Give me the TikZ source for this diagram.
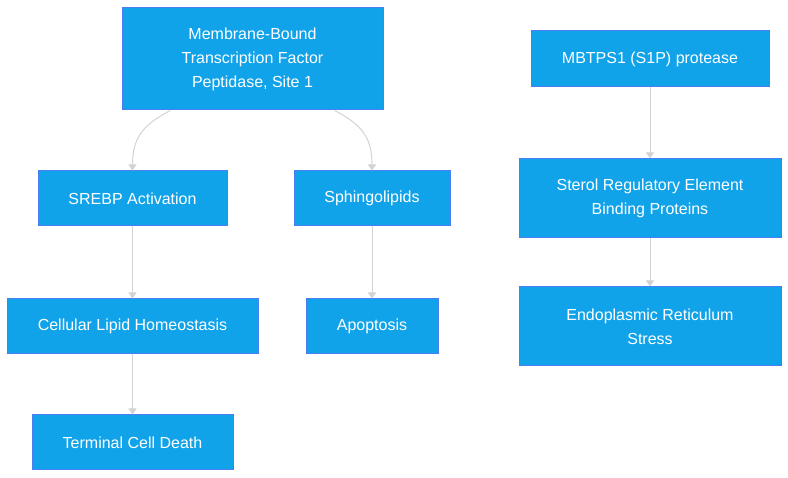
\documentclass[tikz,border=0pt]{standalone}
\usepackage{fontspec}
\setmainfont{Liberation Sans}
\usetikzlibrary{arrows.meta}
\definecolor{boxFill}{RGB}{17,163,233}
\definecolor{boxLine}{RGB}{76,126,242}
\definecolor{edgeGray}{RGB}{211,211,211}
\begin{document}
\begin{tikzpicture}
[x=1pt,y=-1pt,
  nodeDecorate/.style={shape=rectangle,draw=boxLine,fill=boxFill,line width=1pt,
    text=white,align=center,inner sep=0pt,
    font=\fontsize{16}{24}\selectfont},%
  lineDecorate/.style={-{Triangle[length=6pt,width=8pt]},draw=edgeGray,line width=1pt}]
\useasboundingbox (0,0) rectangle (788,478);
%% boxes
\foreach \nodename/\x/\y/\w/\h/\txt in {
  mbtf/252.5/59/261/102/{Membrane-Bound\\Transcription Factor\\Peptidase, Site 1},
  srebp/132.5/198.5/189/55/{SREBP Activation},
  sphingo/372/198.5/156/55/{Sphingolipids},
  homeo/132.5/326.5/251/55/{Cellular Lipid Homeostasis},
  apopt/372/326.5/132/55/{Apoptosis},
  death/132.5/442.5/201/55/{Terminal Cell Death},
  mbtps/650/59/238/56/{MBTPS1 (S1P) protease},
  sterol/650/198.5/262/79/{Sterol Regulatory Element\\Binding Proteins},
  erstress/650/326.5/262/79/{Endoplasmic Reticulum\\Stress}}
{
  \node (\nodename) at (\x,\y) [nodeDecorate,minimum width=\w pt,minimum height=\h pt] {\txt};
}
%% curved edges from the top box
\draw[lineDecorate] ([xshift=-82pt]mbtf.south) .. controls +(-30,15) and +(0,-30) .. (srebp.north);
\draw[lineDecorate] ([xshift=82pt]mbtf.south) .. controls +(30,15) and +(0,-30) .. (sphingo.north);
%% straight edges
\path
\foreach \startnode/\endnode in {srebp/homeo, homeo/death, sphingo/apopt,
  mbtps/sterol, sterol/erstress}
{
  (\startnode) edge[lineDecorate] (\endnode)
};
\end{tikzpicture}
\end{document}
